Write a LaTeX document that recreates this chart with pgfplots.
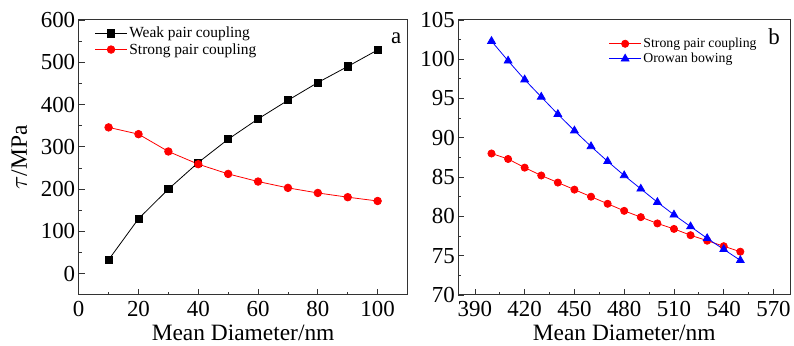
\documentclass[border=0pt]{standalone}
\usepackage{pgfplots}
\pgfplotsset{compat=1.18}
\usepackage{fontspec}
\setmainfont{Liberation Serif}
\begin{document}
\begin{tikzpicture}
\pgfplotsset{
  every axis/.append style={
    scale only axis,
    height=276pt,
    axis line style={line width=1pt, black!80},
    tick align=inside,
    xtick pos=left, ytick pos=left,
    major tick length=6pt, minor tick length=3pt,
    every tick/.style={black!80, line width=0.8pt},
    tick label style={font=\fontsize{23}{27}\selectfont},
    xticklabel style={yshift=-3pt},
    label style={font=\fontsize{23.5}{27}\selectfont},
    /pgf/number format/assume math mode=true,
    legend cell align=left,
    legend style={draw=none, fill=none, row sep=0pt, inner sep=1pt},
    legend image code/.code={\draw[mark repeat=2,mark phase=2] plot coordinates {(0pt,0pt) (16pt,0pt) (32pt,0pt)};},
  },
}
\begin{axis}[
  name=a1, anchor=south west, at={(0pt,0pt)},
  width=330pt,
  xmin=0, xmax=110, ymin=-50, ymax=600,
  xtick={0,20,40,60,80,100}, minor x tick num=1,
  ytick={0,100,200,300,400,500,600}, minor y tick num=1,
  xlabel={Mean Diameter/nm},
  ylabel={$\tau$/MPa},
  xlabel style={yshift=-1pt},
  ylabel style={yshift=7pt},
  legend style={at={(0.045,0.985)}, anchor=north west, font=\fontsize{15.5}{20}\selectfont},
]
\addplot[black, line width=0.8pt, mark=square*, mark size=3.6pt] coordinates {
(10,33) (20,130) (30,200) (40,263) (50,318) (60,366) (70,410) (80,452) (90,490) (100,529)};
\addlegendentry{Weak pair coupling}
\addplot[red, line width=0.8pt, mark=*, mark size=3.8pt] coordinates {
(10,346) (20,330) (30,289) (40,259) (50,236) (60,218) (70,203) (80,191) (90,181) (100,172)};
\addlegendentry{Strong pair coupling}
\node[anchor=east, font=\fontsize{23}{26}\selectfont, inner sep=0pt] at (rel axis cs:0.982,0.935) {a};
\end{axis}
\begin{axis}[
  name=a2, anchor=south west, at={(381pt,0pt)},
  width=333pt,
  xmin=380, xmax=580, ymin=70, ymax=105,
  xtick={390,420,450,480,510,540,570}, minor x tick num=1,
  ytick={70,75,80,85,90,95,100,105}, minor y tick num=1,
  xlabel={Mean Diameter/nm},
  xlabel style={yshift=-1pt},
  legend style={at={(0.45,0.945)}, anchor=north west, font=\fontsize{13.8}{17.5}\selectfont},
]
\addplot[red, line width=0.8pt, mark=*, mark size=3.6pt] coordinates {
(400,88.0) (410,87.3) (420,86.2) (430,85.2) (440,84.3) (450,83.4) (460,82.5) (470,81.6)
(480,80.7) (490,79.9) (500,79.1) (510,78.4) (520,77.6) (530,76.9) (540,76.2) (550,75.5)};
\addlegendentry{Strong pair coupling}
\addplot[blue, line width=0.8pt, mark=triangle*, mark size=4.5pt] coordinates {
(400,102.3) (410,99.8) (420,97.4) (430,95.2) (440,93.0) (450,90.9) (460,88.9) (470,87.0)
(480,85.2) (490,83.5) (500,81.8) (510,80.2) (520,78.7) (530,77.2) (540,75.8) (550,74.4)};
\addlegendentry{Orowan bowing}
\node[anchor=east, font=\fontsize{23}{26}\selectfont, inner sep=0pt] at (rel axis cs:0.97,0.94) {b};
\end{axis}
\path ([xshift=-79pt,yshift=-51pt]a1.south west) rectangle ([xshift=1pt,yshift=20pt]a2.north east);
\end{tikzpicture}
\end{document}
